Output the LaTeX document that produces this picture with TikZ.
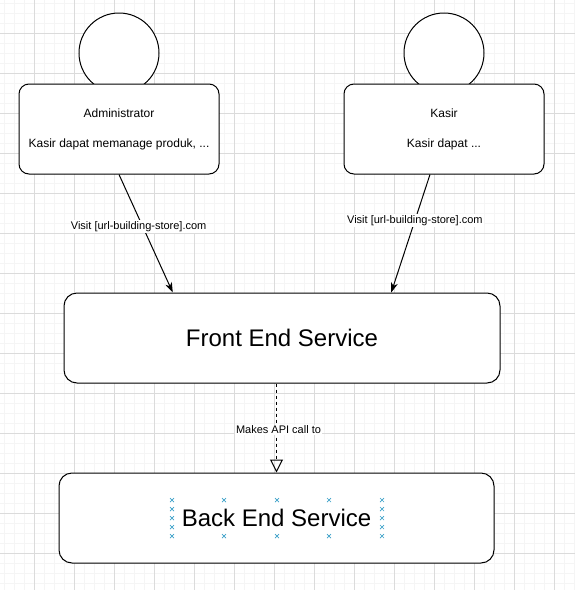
\documentclass[tikz,border=0pt]{standalone}
\usepackage{fontspec}
\setmainfont{Liberation Sans}
\usepackage{tikz}
\usetikzlibrary{calc}
\usetikzlibrary{arrows.meta}
\usetikzlibrary{positioning}
\colorlet{gridmajor}{black!14}
\colorlet{gridminor}{black!4}
\definecolor{handle}{RGB}{58,160,200}

\begin{document}
\begin{tikzpicture}[
x=1pt,y=-1pt,
ActorHead/.style={draw=black,fill=white,circle,minimum size=80pt,inner sep=0pt,line width=1pt},
ActorBox/.style={draw=black,fill=white,rounded corners=10pt,minimum width=200pt,minimum height=90pt,
  line width=1pt,align=center,font=\fontsize{12}{30}\selectfont},
ServiceBox/.style={draw=black,fill=white,rounded corners=13pt,minimum height=90pt,line width=1pt,
  font=\fontsize{24}{28}\selectfont},
EdgeLabel/.style={fill=white,inner sep=1pt,font=\fontsize{11}{13}\selectfont},
Visits/.style={-{Stealth[length=10pt,width=7pt,inset=3pt]},line width=1pt},
ApiCall/.style={-{Triangle[open,length=13pt,width=13pt]},dash pattern=on 3pt off 3pt,line width=1pt},
Handle/.style={handle,line width=0.7pt}
]
\useasboundingbox (0,0) rectangle (575,590);
\fill[white] (0,0) rectangle (575,590);

% grid
\foreach \x in {4,14,...,574} \draw[gridminor,line width=0.8pt] (\x,0) -- (\x,590);
\foreach \y in {3,13,...,583} \draw[gridminor,line width=0.8pt] (0,\y) -- (575,\y);
\foreach \x in {34,74,...,554} \draw[gridmajor,line width=0.8pt] (\x,0) -- (\x,590);
\foreach \y in {33,73,...,553} \draw[gridmajor,line width=0.8pt] (0,\y) -- (575,\y);

% actors
\node[ActorHead] (adminHead) at (119,53) {};
\node[ActorBox, below=-10pt of adminHead] (admin) {Administrator\\Kasir dapat memanage produk, ...};

\node[ActorHead] (kasirHead) at (444,53) {};
\node[ActorBox, below=-10pt of kasirHead] (kasir) {Kasir\\Kasir dapat ...};

% services
\node[ServiceBox, minimum width=436pt] (frontend) at (282,338) {Front End Service};
\node[ServiceBox, minimum width=435pt] (backend) at (276.5,518) {Back End Service};

% connectors
\coordinate (kasirOut) at ($(kasir.south)+(-14,0)$);
\coordinate (frontLeft) at ($(frontend.north west)!0.25!(frontend.north east)$);
\coordinate (frontRight) at ($(frontend.north west)!0.75!(frontend.north east)$);
\coordinate (apiOut) at (frontend.south -| backend.north);

\draw[Visits] (admin.south) -- (frontLeft) node[EdgeLabel,pos=0.44,xshift=-4pt]{Visit [url-building-store].com};
\draw[Visits] (kasirOut) -- (frontRight) node[EdgeLabel,pos=0.39]{Visit [url-building-store].com};
\draw[ApiCall] (apiOut) -- (backend.north) node[EdgeLabel,pos=0.52,xshift=2pt]{Makes API call to};

% text handles
\foreach \x in {172,224,277,329,382}
  \foreach \y in {500,536}
    \draw[Handle] (\x-2,\y-2) -- (\x+2,\y+2) (\x-2,\y+2) -- (\x+2,\y-2);
\foreach \x in {172,382}
  \foreach \y in {509,518,527}
    \draw[Handle] (\x-2,\y-2) -- (\x+2,\y+2) (\x-2,\y+2) -- (\x+2,\y-2);

\end{tikzpicture}
\end{document}
